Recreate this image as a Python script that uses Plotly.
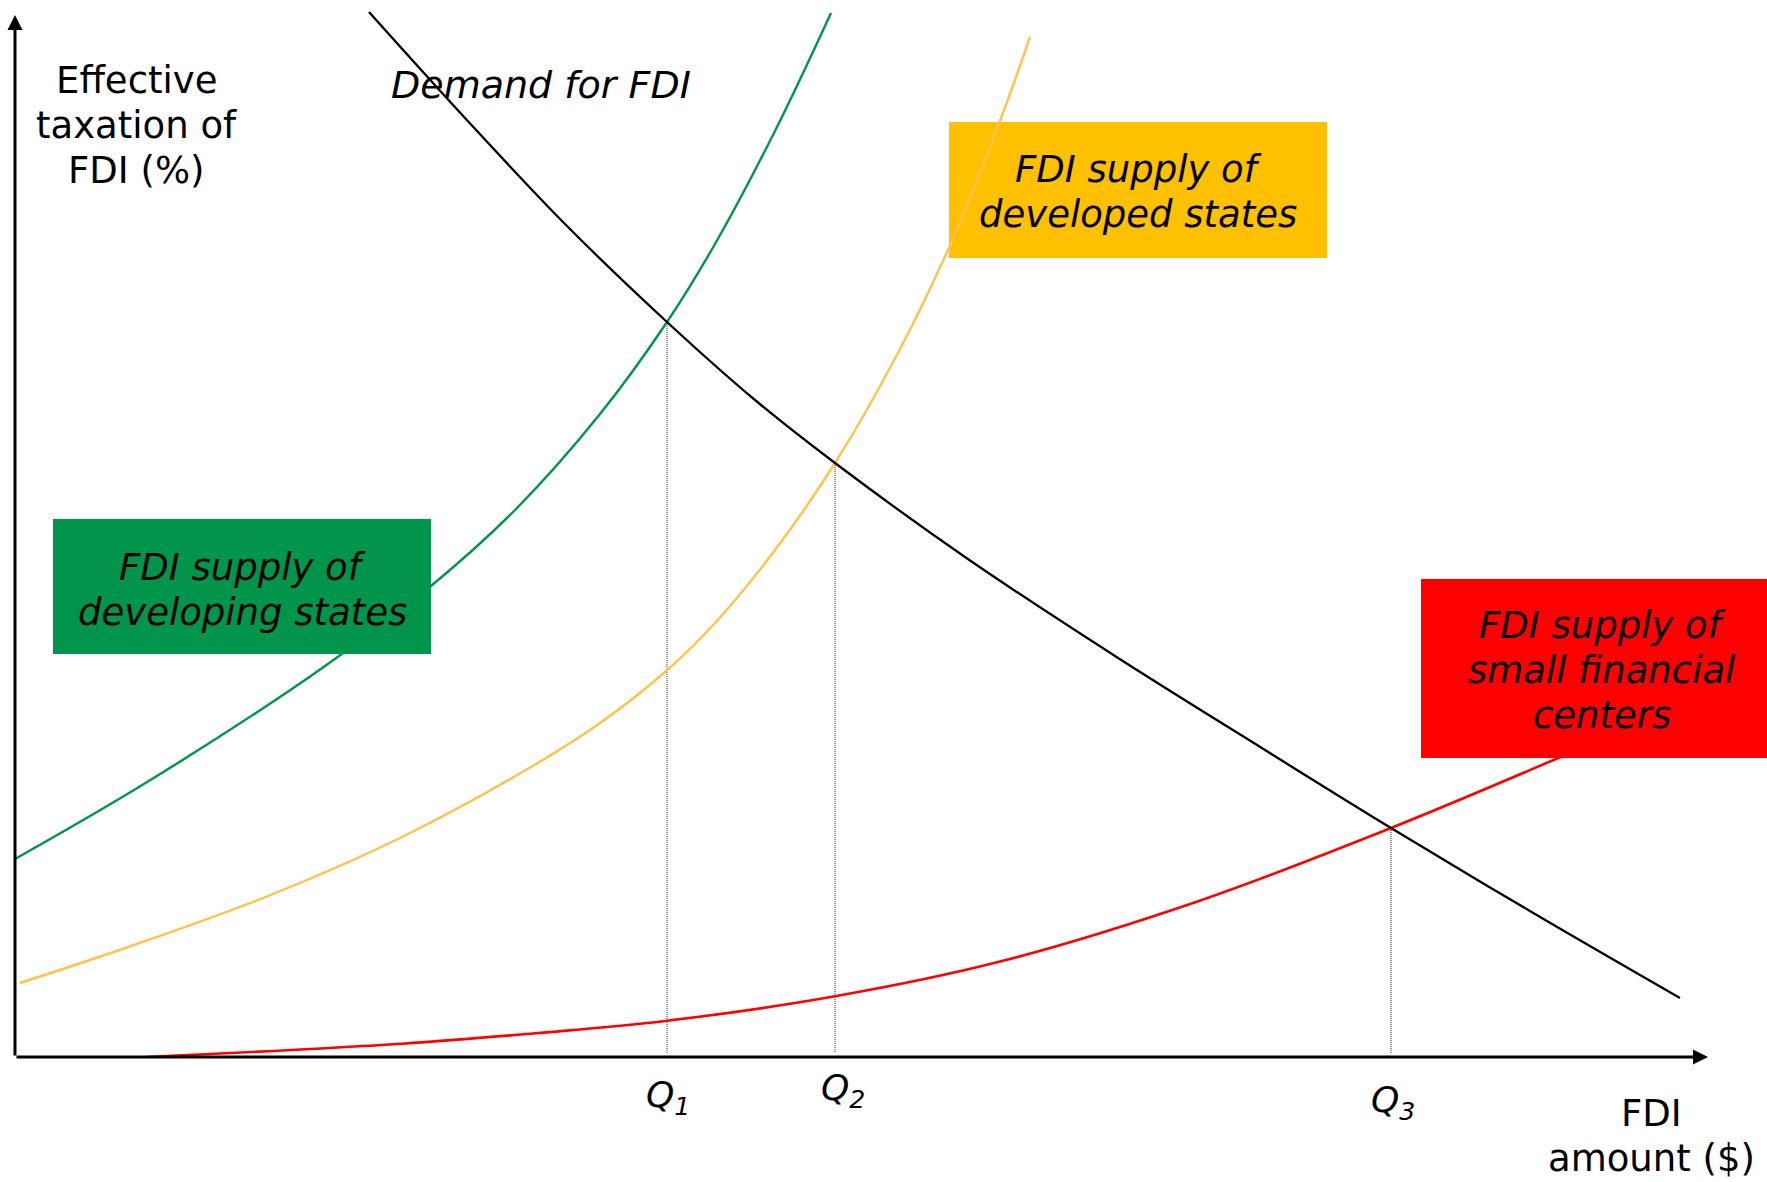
import plotly.graph_objects as go

# FDI amount (x) and effective taxation (y), in chart units
demand_x = [35.4, 45.0, 55.0, 65.2, 74.0, 82.0, 95.0, 110.0, 125.0, 137.6, 152.0, 166.5]
demand_y = [104.5, 93.9, 83.3, 73.5, 65.7, 59.4, 50.0, 40.1, 30.7, 22.9, 14.3, 5.9]

developing_x = [0.0, 11.9, 25.3, 32.4, 41.6, 50.0, 58.5, 65.2, 70.0, 76.0, 81.6]
developing_y = [19.8, 26.7, 35.2, 40.1, 47.1, 54.7, 64.3, 73.5, 81.3, 92.6, 104.4]

developed_x = [0.5, 11.9, 25.3, 38.7, 52.1, 58.5, 65.0, 70.0, 76.0, 82.0, 88.5, 94.0, 98.5, 101.5]
developed_y = [7.4, 11.2, 16.1, 22.0, 29.3, 33.4, 38.5, 43.4, 50.7, 59.4, 70.8, 82.3, 93.6, 102.0]

financial_x = [13.2, 38.7, 52.1, 65.0, 82.0, 98.5, 118.1, 137.6, 154.5, 162.5]
financial_y = [0.0, 1.33, 2.38, 3.6, 6.07, 9.54, 15.5, 22.9, 29.98, 33.5]

# equilibrium quantities
q_x = [65.2, 82.0, 137.6]
q_y = [73.5, 59.4, 22.9]
q_labels = ["Q<sub>1</sub>", "Q<sub>2</sub>", "Q<sub>3</sub>"]

# axis extents
x_max = 169.3
y_max = 104.2

GREEN = "#00954A"
GOLD = "#FFC000"
GOLD_LINE = "#FFC34A"
RED = "#FF0000"
FONT = "DejaVu Sans"
LINE_GAP = 4.5  # vertical distance between text lines, in y units

fig = go.Figure()

# dotted guides from each equilibrium down to the quantity axis
for qx, qy in zip(q_x, q_y):
    fig.add_trace(go.Scatter(x=[qx, qx], y=[qy, 0.4], mode="lines",
                             line=dict(color="#333333", width=1, dash="1px,1px"),
                             hoverinfo="skip"))

curves = [
    (developing_x, developing_y, GREEN, 2.4),
    (developed_x, developed_y, GOLD_LINE, 2.4),
    (financial_x, financial_y, RED, 2.6),
    (demand_x, demand_y, "#000000", 2.3),
]
for xs, ys, color, w in curves:
    fig.add_trace(go.Scatter(x=xs, y=ys, mode="lines",
                             line=dict(color=color, width=w, shape="spline", smoothing=1.0),
                             hoverinfo="skip"))

# label boxes
boxes = [
    (93.4, 131.2, 79.9, 93.5, GOLD, "below"),
    (3.8, 41.6, 40.3, 53.8, GREEN, "above"),
    (140.6, 180.0, 29.9, 47.8, RED, "above"),
]
for x0, x1, y0, y1, color, layer in boxes:
    fig.add_shape(type="rect", x0=x0, x1=x1, y0=y0, y1=y1, xref="x", yref="y",
                  fillcolor=color, line=dict(width=0), layer=layer)

annotations = []

# axes drawn as arrows
annotations.append(dict(x=x_max, y=0, ax=0, ay=0, xref="x", yref="y", axref="x", ayref="y",
                        text="", showarrow=True, arrowhead=2, arrowsize=1, arrowwidth=3,
                        arrowcolor="#000000", standoff=0))
annotations.append(dict(x=0, y=y_max, ax=0, ay=0, xref="x", yref="y", axref="x", ayref="y",
                        text="", showarrow=True, arrowhead=2, arrowsize=1, arrowwidth=3,
                        arrowcolor="#000000", standoff=0))


def label(x, y_top, lines, xanchor="center", italic=False, size=37):
    """One annotation per line so the line spacing can be set exactly."""
    for i, line in enumerate(lines):
        t = f"<i>{line}</i>" if italic else line
        annotations.append(dict(x=x, y=y_top - i * LINE_GAP, xref="x", yref="y", text=t,
                                showarrow=False, xanchor=xanchor, yanchor="middle",
                                font=dict(family=FONT, size=size, color="#000000")))


label(12.1, 97.7, ["Effective", "taxation of", "FDI (%)"])
label(163.6, -5.65, ["FDI", "amount ($)"])
label(37.4, 97.25, ["Demand for FDI"], xanchor="left", italic=True, size=38)
label(112.3, 88.8, ["FDI supply of", "developed states"], italic=True)
label(22.7, 49.0, ["FDI supply of", "developing states"], italic=True)
label(158.7, 43.15, ["FDI supply of", "small financial", "centers"], italic=True)

q_label_dx = [0.1, 0.8, 0.2]
q_label_y = [-4.05, -3.35, -4.5]
for qx, dx, ly, txt in zip(q_x, q_label_dx, q_label_y, q_labels):
    label(qx + dx, ly, [txt], italic=True, size=36)

fig.update_layout(
    width=1767, height=1182,
    margin=dict(l=0, r=0, t=0, b=0),
    paper_bgcolor="#FFFFFF", plot_bgcolor="rgba(0,0,0,0)",
    showlegend=False,
    xaxis=dict(range=[-1.5, 175.2], visible=False, fixedrange=True),
    yaxis=dict(range=[-12.5, 105.7], visible=False, fixedrange=True),
    annotations=annotations,
)

fig.write_html("out.html", config={"displayModeBar": False})
